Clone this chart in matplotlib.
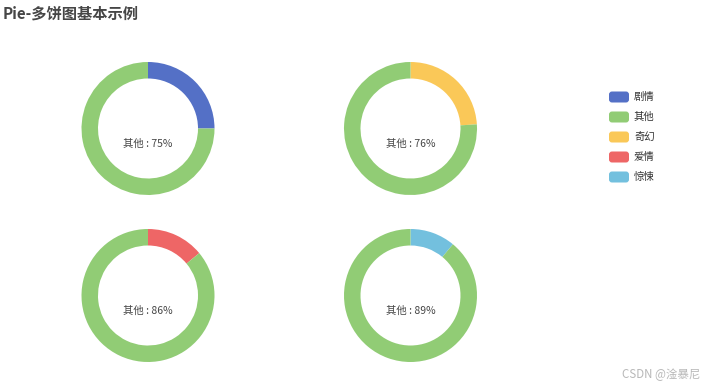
import matplotlib.pyplot as plt
from matplotlib.patches import FancyBboxPatch

plt.rcParams['font.family'] = ['Noto Sans CJK SC', 'DejaVu Sans']

# data
categories = ['剧情', '奇幻', '爱情', '惊悚']
other_name = '其他'
main_values = [25, 24, 14, 11]
other_values = [75, 76, 86, 89]
legend_names = ['剧情', '其他', '奇幻', '爱情', '惊悚']

colors = {'剧情': '#5470c6', '其他': '#91cc75', '奇幻': '#fac858',
          '爱情': '#ee6666', '惊悚': '#73c0de'}

W, H = 711, 386
fig = plt.figure(figsize=(W / 100, H / 100), dpi=100)
ax = fig.add_axes([0, 0, 1, 1])

centers = [(148, 128.5), (410.5, 128.5), (148, 295.5), (410.5, 295.5)]
r_out = 66.5
ring = 16.5

for (cx, cy), name, v, o in zip(centers, categories, main_values, other_values):
    ax.pie([v, o], colors=[colors[name], colors[other_name]],
           center=(cx, H - cy), radius=r_out, startangle=90, counterclock=False,
           wedgeprops=dict(width=ring, linewidth=0), frame=True)
    ax.text(cx, H - cy - 15, f'{other_name} : {o}%', ha='center', va='center',
            fontsize=7.5, color='#464646')

ax.set_xlim(0, W)
ax.set_ylim(0, H)
ax.set_aspect('equal')
ax.axis('off')

# legend
for i, name in enumerate(legend_names):
    y = H - (97 + 20 * i)
    ax.add_patch(FancyBboxPatch((609, y - 5.5), 20, 11,
                                boxstyle='round,pad=0,rounding_size=3',
                                fc=colors[name], ec='none'))
    ax.text(634, y, name, ha='left', va='center', fontsize=7.5, color='#333333')

fig.text(3 / W, 1 - 14 / H, 'Pie-多饼图基本示例', ha='left', va='center',
         fontsize=11, fontweight='bold', color='#464646')
fig.text(700 / W, 1 - 375 / H, 'CSDN @淦暴尼', ha='right', va='center',
         fontsize=8.3, color='#b8b8b8')

fig.savefig('out.png', dpi=100)
